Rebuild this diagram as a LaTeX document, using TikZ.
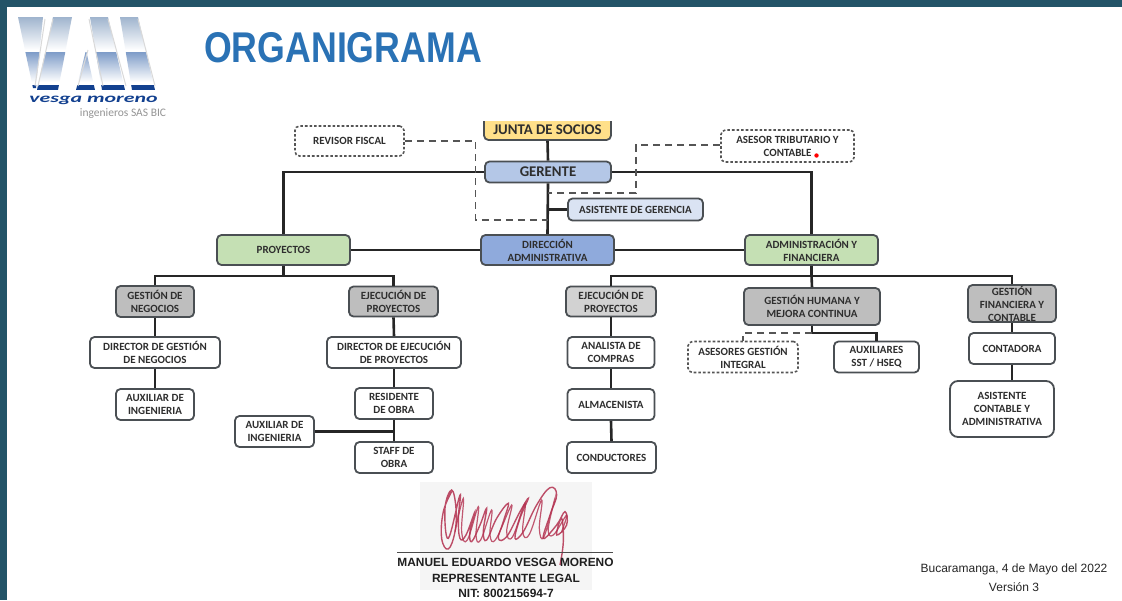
\documentclass[tikz,border=0pt]{standalone}
\usepackage{fontspec}
\setmainfont{Carlito}
\newfontfamily\arialf{Liberation Sans}
\tikzset{
  base/.style={rounded corners=4.5pt,line width=1.8pt,draw=linecol,inner sep=0pt,align=center,
    font=\bfseries\fontsize{11}{12.9}\selectfont,text=textcol},
  wbox/.style={base,fill=white},
  gbox/.style={base,fill=graybox},
  lgbox/.style={base,fill=lightgray},
  greenbox/.style={base,fill=greenfill},
  dashbox/.style={base,fill=white,dash pattern=on 2.6pt off 2pt,line width=1.6pt,draw=dashcol},
  solidline/.style={line width=2.6pt,draw=black!85},
  dashline/.style={line width=1.6pt,draw=dashcol,dash pattern=on 7pt off 5pt},
  sz/.style 2 args={minimum width=#1 pt,minimum height=#2 pt},
}
\definecolor{bgteal}{HTML}{235468}
\definecolor{linecol}{HTML}{4A4F53}
\definecolor{textcol}{HTML}{2E2E2E}
\definecolor{dashcol}{HTML}{555555}
\definecolor{graybox}{HTML}{BEBEBE}
\definecolor{lightgray}{HTML}{D2D2D2}
\definecolor{greenfill}{HTML}{C5E0B4}
\definecolor{juntafill}{HTML}{FFE08A}
\definecolor{gerfill}{HTML}{B4C7E7}
\definecolor{asifill}{HTML}{DAE3F3}
\definecolor{dirfill}{HTML}{8FAADC}
\definecolor{titleblue}{HTML}{2A72B5}
\definecolor{logoblue}{HTML}{12408F}
\definecolor{sigred}{HTML}{B3304F}
\definecolor{logotop}{HTML}{9FB4CE}
\definecolor{logomid}{HTML}{7E9CC8}
\begin{document}
\begin{tikzpicture}[x=1pt,y=-1pt]
\useasboundingbox (0,0) rectangle (1122,600);
\fill[bgteal] (0,0) rectangle (1122,600);
\fill[white] (7,7) rectangle (1122,600);

% logo
\begin{scope}
\clip (18,17)--(43,17)--(36,88)--(33,88)--cycle
      (53,17)--(72,17)--(58,90)--(37,90)--cycle
      (86,50)--(95,90)--(76,90)--cycle
      (90,17)--(108,17)--(125,90)--(102,90)--cycle
      (120,17)--(138,17)--(155,90)--(132,90)--cycle;
\shade[top color=logotop,bottom color=white] (10,17) rectangle (160,50);
\shade[top color=logomid,bottom color=white] (10,52) rectangle (160,82);
\fill[logoblue] (10,85) rectangle (160,90);
\end{scope}
\draw[black!15,line width=1pt] (45,19)--(35,86) (53,19)--(38,86) (88,50)--(78,86) (89,19)--(103,86) (108,19)--(126,86) (138,19)--(155,86);
\node[inner sep=0pt,text=logoblue,font=\bfseries\itshape\fontsize{13}{13}\selectfont] (logotext) at (93.5,100.5) {\scalebox{1.68}[1]{vesga moreno}};
\node[inner sep=0pt,text=black!42,font=\fontsize{11.5}{11.5}\selectfont] (logosub) at (123,114) {ingenieros SAS BIC};

% title
\node[inner sep=0pt,text=titleblue,font=\arialf\bfseries\fontsize{43}{43}\selectfont] (title) at (343,47.5) {\scalebox{.83}[1]{ORGANIGRAMA}};

% boxes
\node[base,fill=juntafill,sz={127}{28}] (junta) at (547.5,126) {};
\fill[white] (480,110) rectangle (616,120.5);
\node[inner sep=0pt,text=textcol,font=\bfseries\fontsize{14.8}{14.8}\selectfont] (juntatext) at (547.5,129.5) {JUNTA DE SOCIOS};
\node[dashbox,sz={109}{30}] (revisor) at (349.5,141) {REVISOR FISCAL};
\node[base,fill=gerfill,sz={126}{21},font=\bfseries\fontsize{14.8}{14.8}\selectfont] (gerente) at (548,172) {GERENTE};
\node[dashbox,sz={133}{32}] (asesor) at (787.5,146) {ASESOR TRIBUTARIO Y\\CONTABLE};
\node[base,fill=asifill,sz={135}{22}] (asistente) at (635.5,209.5) {ASISTENTE DE GERENCIA};
\node[greenbox,sz={133}{30}] (proy) at (283.5,250) {PROYECTOS};
\node[base,fill=dirfill,sz={133}{30}] (dir) at (547.5,250) {DIRECCIÓN\\ADMINISTRATIVA};
\node[greenbox,sz={133}{30}] (admin) at (811.5,250) {ADMINISTRACIÓN Y\\FINANCIERA};

\node[gbox,sz={78}{31}] (gneg) at (155,301.5) {GESTIÓN DE\\NEGOCIOS};
\node[gbox,sz={89}{30}] (ejec) at (393.5,301.5) {EJECUCIÓN DE\\PROYECTOS};
\node[wbox,sz={130}{31}] (dgn) at (155,352.5) {DIRECTOR DE GESTIÓN\\DE NEGOCIOS};
\node[wbox,sz={78}{31}] (aux) at (155,404.5) {AUXILIAR DE\\INGENIERIA};
\node[wbox,sz={134}{31}] (dep) at (394,352.5) {DIRECTOR DE EJECUCIÓN\\DE PROYECTOS};
\node[wbox,sz={78}{31}] (res) at (394,403.5) {RESIDENTE\\DE OBRA};
\node[wbox,sz={79}{31}] (auxb) at (274.5,431.5) {AUXILIAR DE\\INGENIERIA};
\node[wbox,sz={78}{31}] (staff) at (394,457.5) {STAFF DE\\OBRA};

\node[lgbox,sz={90}{30}] (ejecb) at (611,301.5) {EJECUCIÓN DE\\PROYECTOS};
\node[wbox,sz={87}{31}] (anal) at (611,352.5) {ANALISTA DE\\COMPRAS};
\node[wbox,sz={87}{31}] (alm) at (611,404.5) {ALMACENISTA};
\node[wbox,sz={89}{31}] (cond) at (611.5,457.5) {CONDUCTORES};

\node[gbox,sz={136}{37}] (ghmc) at (812,306.5) {GESTIÓN HUMANA Y\\MEJORA CONTINUA};
\node[dashbox,sz={110}{31}] (ases) at (743,357) {ASESORES GESTIÓN\\INTEGRAL};
\node[wbox,sz={85}{31}] (auxs) at (876.5,357) {AUXILIARES\\SST / HSEQ};
\node[gbox,sz={88}{37},label={[inner sep=0pt,align=center,text=textcol,font=\bfseries\fontsize{11}{13}\selectfont]center:GESTIÓN\\FINANCIERA Y\\CONTABLE}] (gfc) at (1012,303.5) {};
\node[wbox,sz={86}{31}] (cont) at (1012,348.5) {CONTADORA};
\node[wbox,sz={104}{56},rounded corners=8pt] (asic) at (1002,409) {ASISTENTE\\CONTABLE Y\\ADMINISTRATIVA};

% connectors
\coordinate (busP) at (283.5,276);
\coordinate (busA) at (811.5,276);
\coordinate (jAs) at (548,220);
\coordinate (jAsB) at (548,209.5);
\coordinate (jAsC) at (548,193);
\coordinate (jRev) at (475.5,220);
\coordinate (jAse) at (636,193);
\coordinate (jAuxb) at (394,431.5);
\coordinate (jGh) at (812,333);
\draw[solidline] (junta.south) -- (gerente.north);
\draw[solidline] (gerente.south) -- (dir.north);
\draw[solidline] (gerente.west) -| (proy.north);
\draw[solidline] (gerente.east) -| (admin.north);
\draw[solidline] (jAsB) -- (asistente.west);
\draw[solidline] (proy.east) -- (dir.west);
\draw[solidline] (dir.east) -- (admin.west);
\draw[solidline] (proy.south) -- (busP);
\draw[solidline] (admin.south) -- (busA);
\draw[solidline] (gneg.north) |- (busP) -| (ejec.north);
\draw[solidline] (ejecb.north) |- (busA) -| (gfc.north);
\draw[solidline] (busA) -- (ghmc.north);
\draw[solidline] (gneg.south) -- (dgn.north);
\draw[solidline] (dgn.south) -- (aux.north);
\draw[solidline] (ejec.south) -- (dep.north);
\draw[solidline] (dep.south) -- (res.north);
\draw[solidline] (res.south) -- (staff.north);
\draw[solidline] (auxb.east) -- (jAuxb);
\draw[solidline] (ejecb.south) -- (anal.north);
\draw[solidline] (anal.south) -- (alm.north);
\draw[solidline] (alm.south) -- (cond.north);
\draw[solidline] (ghmc.south) -- (jGh) -| (auxs.north);
\draw[solidline] (gfc.south) -- (cont.north);
\draw[solidline] (cont.south) -- (cont.south |- asic.north);
\draw[dashline] (revisor.east) -| (jRev) -- (jAs);
\draw[dashline] ([yshift=1pt]asesor.west) -| (jAse) -- (jAsC);
\draw[dashline] (jGh) -| (ases.north);

\fill[red] (816.5,155.5) circle (2.2pt);

% signature
\fill[black!4] (420,482) rectangle (592,590);
\begin{scope}[shift={(380,475)},x=0.3333pt,y=-0.3333pt]
\draw[sigred,line width=1.4pt,opacity=.85] plot[smooth,tension=.7] coordinates {
(215,50)(190,110)(185,190)(205,222)(225,170)(228,100)(215,45)(195,100)(205,190)(240,60)(235,130)(240,190)(258,180)(285,110)(270,170)(275,200)(300,150)(320,100)(310,170)(320,195)(350,130)(385,85)(370,140)(355,190)(380,185)(420,110)(445,70)(420,130)(405,190)(430,170)(470,90)(510,38)(530,60)(510,120)(490,190)(530,150)(555,110)(560,150)(530,180)(545,130)(550,200)(540,270)};
\draw[sigred,line width=1.2pt,opacity=.8] plot[smooth,tension=.7] coordinates {
(225,170)(250,70)(245,170)(262,195)(295,95)(288,180)(302,195)(335,105)(330,180)(348,192)(395,90)(380,170)(398,185)(435,85)(428,170)(448,178)(485,75)(478,160)(492,185)(525,70)(505,160)(520,180)(560,120)(545,170)};
\end{scope}
\coordinate (sigL) at (397,552);
\coordinate (sigR) at (613,552);
\draw[black!70,line width=.9pt] (sigL) -- (sigR);
\node[inner sep=0pt,text=black!88,font=\arialf\bfseries\fontsize{11.9}{11.9}\selectfont] (sign1) at (505.5,562.5) {MANUEL EDUARDO VESGA MORENO};
\node[inner sep=0pt,text=black!88,font=\arialf\bfseries\fontsize{11.9}{11.9}\selectfont] (sign2) at (506,578) {REPRESENTANTE LEGAL};
\node[inner sep=0pt,text=black!88,font=\arialf\bfseries\fontsize{11.9}{11.9}\selectfont] (sign3) at (506,593) {NIT: 800215694-7};

\node[inner sep=0pt,align=center,text=black!85,font=\arialf\fontsize{12}{19}\selectfont] (place) at (1014,578) {Bucaramanga, 4 de Mayo del 2022\\Versión 3};
\end{tikzpicture}
\end{document}
